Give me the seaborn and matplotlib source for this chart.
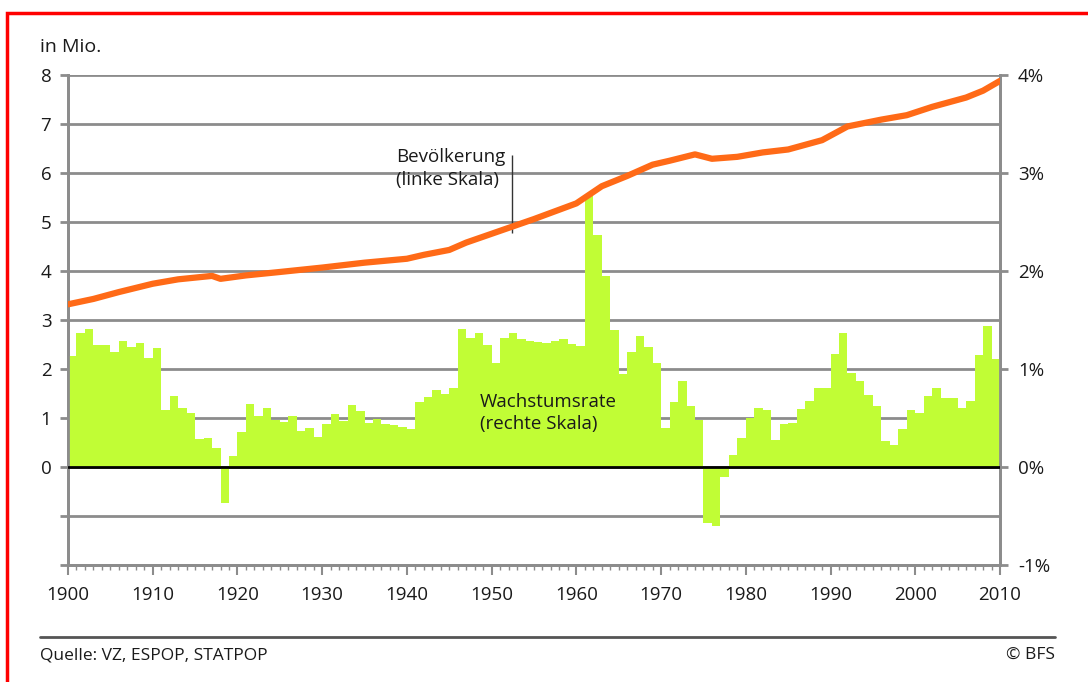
import matplotlib.pyplot as plt
import matplotlib.lines as mlines
import matplotlib.patches as mpatches
from matplotlib.ticker import MultipleLocator
import seaborn as sns

# Wachstumsrate der Bevölkerung in % (one bar per year, 1900-2009)
years = list(range(1900, 2010))
growth_rate = [
    1.13, 1.37, 1.41, 1.25, 1.24, 1.17, 1.29, 1.22, 1.27, 1.11,   # 1900s
    1.21, 0.58, 0.72, 0.60, 0.55, 0.29, 0.30, 0.19, -0.37, 0.11,  # 1910s
    0.36, 0.64, 0.52, 0.60, 0.48, 0.46, 0.52, 0.37, 0.40, 0.31,   # 1920s
    0.44, 0.54, 0.47, 0.63, 0.57, 0.45, 0.49, 0.44, 0.43, 0.41,   # 1930s
    0.39, 0.66, 0.71, 0.79, 0.74, 0.81, 1.41, 1.32, 1.37, 1.25,   # 1940s
    1.06, 1.32, 1.37, 1.31, 1.29, 1.28, 1.27, 1.29, 1.31, 1.26,   # 1950s
    1.23, 2.78, 2.37, 1.95, 1.40, 0.95, 1.17, 1.34, 1.22, 1.06,   # 1960s
    0.40, 0.66, 0.88, 0.62, 0.48, -0.57, -0.60, -0.10, 0.12, 0.30,  # 1970s
    0.50, 0.60, 0.58, 0.28, 0.44, 0.45, 0.59, 0.67, 0.81, 0.81,   # 1980s
    1.15, 1.37, 0.96, 0.88, 0.73, 0.62, 0.27, 0.22, 0.39, 0.58,   # 1990s
    0.55, 0.72, 0.81, 0.70, 0.70, 0.60, 0.67, 1.14, 1.44, 1.10,   # 2000s
]

# Ständige Wohnbevölkerung in Mio.
pop_years = [1900, 1903, 1906, 1910, 1913, 1917, 1918, 1921, 1925, 1930,
             1935, 1940, 1942, 1945, 1947, 1950, 1955, 1960, 1963, 1966,
             1969, 1971, 1974, 1976, 1979, 1982, 1985, 1989, 1992, 1996,
             1999, 2002, 2006, 2008, 2010]
pop_millions = [3.32, 3.43, 3.57, 3.74, 3.83, 3.90, 3.84, 3.91, 3.98, 4.07,
                4.17, 4.25, 4.33, 4.43, 4.58, 4.76, 5.06, 5.38, 5.73, 5.94,
                6.17, 6.25, 6.38, 6.29, 6.33, 6.42, 6.48, 6.67, 6.95, 7.09,
                7.18, 7.35, 7.54, 7.68, 7.88]

left_ticks = list(range(-2, 9))
left_labels = ["" if t < 0 else str(t) for t in left_ticks]
right_ticks = [-1, 0, 1, 2, 3, 4]
right_labels = ["-1%", "0%", "1%", "2%", "3%", "4%"]
decades = list(range(1900, 2011, 10))

GREEN = "#c1fd35"
ORANGE = "#ff6a17"
GRID = "#8c8c8c"
TEXT = "#1a1a1a"
FONT = ["Open Sans", "DejaVu Sans"]

sns.set_theme(style="white")
plt.rcParams["font.family"] = FONT
plt.rcParams["font.size"] = 13.5

fig = plt.figure(figsize=(10.88, 6.82), dpi=100)
ax = fig.add_axes([68 / 1088, 1 - 565 / 682, 932 / 1088, 490 / 682])
ax2 = ax.twinx()

# gridlines live on the left axis, below the bars
ax.set_ylim(-2, 8)
ax.set_yticks(left_ticks)
ax.set_yticklabels(left_labels)
ax.grid(axis="y", color=GRID, linewidth=2)
ax.set_axisbelow(True)
ax.tick_params(axis="y", left=True, right=False, length=6, width=2,
               color=GRID, pad=6, labelsize=13.5, labelcolor=TEXT)

# bars on the right (percent) scale; each bar spans one year
bar_centres = [y + 0.5 for y in years]
sns.barplot(x=bar_centres, y=growth_rate, native_scale=True, width=1.0,
            color=GREEN, saturation=1, linewidth=0, errorbar=None, ax=ax2)
ax2.axhline(0, color="black", linewidth=2, zorder=5)

# population line drawn on top, but in left-axis units
sns.lineplot(x=pop_years, y=pop_millions, ax=ax2, color=ORANGE,
             linewidth=4.5, transform=ax.transData, zorder=6,
             solid_capstyle="round")

ax2.set_ylim(-1, 4)
ax2.set_yticks(right_ticks)
ax2.set_yticklabels(right_labels)
ax2.tick_params(axis="y", right=True, length=6, width=2, color=GRID,
                pad=7, labelsize=13.5, labelcolor=TEXT)
ax2.set_xlabel("")
ax2.set_ylabel("")

ax.set_xlim(1900, 2010)
ax.set_xticks(decades)
ax.set_xticklabels([str(d) for d in decades])
ax.xaxis.set_minor_locator(MultipleLocator(1))
ax.tick_params(axis="x", which="major", bottom=True, length=7, width=1.5,
               color=GRID, pad=8, labelsize=13.5, labelcolor=TEXT)
ax.tick_params(axis="x", which="minor", bottom=True, length=3.5, width=1,
               color=GRID)

for a in (ax, ax2):
    a.spines["top"].set_visible(False)
    for side in ("left", "right", "bottom"):
        a.spines[side].set_color(GRID)
        a.spines[side].set_linewidth(2)

# annotations
ax.vlines(1952.4, 4.78, 6.37, color="#333333", linewidth=1, zorder=7)
ax.text(1938.7, 6.50, "Bevölkerung\n(linke Skala)", ha="left", va="top",
        fontsize=13.5, color=TEXT, linespacing=1.3)
ax2.text(1948.6, 0.76, "Wachstumsrate\n(rechte Skala)", ha="left",
         va="top", fontsize=13.5, color=TEXT, linespacing=1.3, zorder=8)

# header, footer and frame
fig.text(40 / 1088, 1 - 52 / 682, "in Mio.", ha="left", va="baseline",
         fontsize=14, color=TEXT)
fig.add_artist(mlines.Line2D([40 / 1088, 1055 / 1088], [1 - 637 / 682] * 2,
                             color="#555555", linewidth=2))
fig.text(40 / 1088, 1 - 659 / 682, "Quelle: VZ, ESPOP, STATPOP", ha="left",
         va="baseline", fontsize=12.5, color=TEXT)
fig.text(1055 / 1088, 1 - 659 / 682, "© BFS", ha="right", va="baseline",
         fontsize=12.5, color=TEXT)
fig.add_artist(mpatches.Rectangle((7 / 1088, -0.1), 1.2, 1.1 - 13 / 682,
                                  transform=fig.transFigure, fill=False,
                                  edgecolor="#ff0000", linewidth=2.5))

fig.savefig("out.png", dpi=100)
